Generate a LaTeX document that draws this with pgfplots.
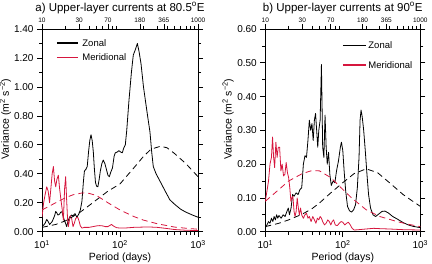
\documentclass[border=0pt]{standalone}
\usepackage{fontspec}
\setmainfont{Liberation Sans}
\usepackage{pgfplots}
\usepackage{pgfplotstable}
\pgfplotsset{compat=1.18}

\definecolor{merid}{RGB}{214,22,62}

% ---------------- panel a) 80.5E ----------------
\pgfplotstableread{
P V
10 0.04
10.5 0.045
11 0.06
11.5 0.085
12 0.07
12.5 0.05
13 0.06
13.5 0.07
14 0.09
14.5 0.11
15 0.14
15.5 0.13
16 0.115
16.7 0.12
17.4 0.135
18 0.138
18.6 0.11
19.3 0.08
20 0.06
20.7 0.035
21.5 0.07
22.5 0.10
24 0.115
25 0.11
26.5 0.125
28 0.10
29.5 0.12
31 0.15
32.5 0.21
34 0.35
35 0.42
36.5 0.43
38 0.45
39.5 0.55
41 0.63
42.5 0.67
44 0.63
45.5 0.55
47 0.43
48.5 0.34
50 0.315
52 0.31
54 0.36
56 0.42
58.5 0.47
61 0.495
64 0.47
67 0.43
70 0.39
73 0.38
76 0.41
80 0.44
84 0.52
87 0.545
92 0.55
97 0.56
102 0.55
107 0.545
112 0.58
117 0.60
122 0.70
130 0.90
140 1.10
148 1.22
158 1.26
167 1.30
176 1.24
186 1.16
200 1.00
215 0.88
230 0.77
242 0.69
255 0.55
267 0.45
290 0.40
325 0.35
380 0.28
436 0.22
500 0.19
600 0.155
700 0.135
850 0.115
1000 0.10
}\zonalA

\pgfplotstableread{
P V
10 0.10
10.5 0.20
11 0.26
11.5 0.31
12 0.28
12.5 0.20
13 0.30
13.5 0.40
14 0.45
14.5 0.35
15 0.31
15.5 0.36
16.2 0.39
16.8 0.30
17.5 0.22
18.2 0.15
18.8 0.08
19.5 0.30
20.1 0.38
20.7 0.22
21.3 0.08
21.8 0.035
22.5 0.08
23 0.11
24 0.09
25 0.035
26 0.06
27 0.09
28 0.10
29 0.095
30 0.07
31 0.04
32.5 0.025
35 0.03
40 0.03
45 0.035
50 0.04
55 0.042
60 0.04
65 0.035
70 0.035
75 0.045
78 0.05
82 0.04
90 0.028
100 0.025
120 0.026
150 0.03
200 0.032
250 0.032
300 0.03
400 0.022
500 0.015
700 0.01
1000 0.008
}\meridA

\pgfplotstableread{
P V
10 0.03
15 0.05
20 0.075
30 0.13
40 0.18
50 0.22
70 0.28
100 0.33
150 0.44
200 0.52
250 0.57
330 0.59
400 0.58
500 0.54
700 0.47
1000 0.38
}\zonalFitA

\pgfplotstableread{
P V
10 0.15
15 0.20
20 0.235
25 0.255
33 0.268
40 0.265
50 0.25
70 0.20
100 0.15
150 0.105
200 0.08
300 0.055
500 0.032
700 0.024
1000 0.017
}\meridFitA

% ---------------- panel b) 90E ----------------
\pgfplotstableread{
P V
10 0.012
10.5 0.02
11 0.03
11.5 0.025
12 0.04
12.5 0.03
13 0.045
13.5 0.035
14 0.05
14.5 0.04
15 0.048
16 0.04
17 0.05
18 0.045
19 0.06
19.8 0.07
20.5 0.05
21.5 0.07
22.5 0.11
23.5 0.105
25 0.115
26.5 0.11
28 0.125
29.5 0.13
31 0.20
32.5 0.225
34 0.22
35.5 0.27
37 0.33
38.5 0.30
40 0.32
41.5 0.27
43 0.33
44.5 0.35
46 0.30
47.5 0.25
49 0.30
51 0.33
53 0.495
55 0.25
57 0.22
59 0.345
61 0.25
63 0.20
65.5 0.235
68 0.17
71 0.137
75 0.15
79 0.145
83 0.18
88 0.21
93 0.25
96 0.265
100 0.24
104 0.18
109 0.12
115 0.075
122 0.062
130 0.058
138 0.065
146 0.08
154 0.13
162 0.22
167 0.33
172 0.36
178 0.34
186 0.30
195 0.24
205 0.17
215 0.11
228 0.07
245 0.05
265 0.045
290 0.052
320 0.06
350 0.061
390 0.055
440 0.045
500 0.038
600 0.027
700 0.02
800 0.016
1000 0.012
}\zonalB

\pgfplotstableread{
P V
10 0.09
10.5 0.12
11 0.15
11.5 0.20
12 0.22
12.4 0.28
12.8 0.22
13.2 0.19
13.7 0.265
14.2 0.22
14.7 0.25
15.3 0.25
15.9 0.18
16.5 0.20
17.2 0.165
17.9 0.17
18.6 0.205
19.3 0.175
20 0.16
20.7 0.13
21.4 0.09
22 0.10
22.7 0.105
23.5 0.06
24.2 0.045
25 0.06
25.8 0.10
26.7 0.07
27.5 0.05
28.5 0.07
29.5 0.05
31 0.04
32.5 0.05
34 0.055
35.5 0.04
37 0.045
39 0.03
41 0.045
43 0.035
45 0.025
47 0.04
49 0.035
51 0.045
53 0.04
55 0.03
58 0.02
61 0.025
64 0.035
67 0.03
70 0.02
73 0.03
76 0.035
80 0.02
85 0.018
90 0.025
95 0.03
100 0.028
106 0.02
112 0.025
118 0.028
125 0.02
132 0.01
140 0.005
160 0.006
200 0.008
250 0.01
300 0.009
400 0.008
600 0.006
1000 0.005
}\meridB

\pgfplotstableread{
P V
10 0.015
15 0.025
20 0.035
30 0.052
40 0.068
50 0.085
70 0.115
100 0.145
140 0.172
200 0.186
280 0.175
400 0.145
600 0.11
800 0.09
1000 0.075
}\zonalFitB

\pgfplotstableread{
P V
10 0.09
15 0.125
20 0.15
30 0.172
40 0.181
50 0.18
70 0.16
100 0.125
130 0.10
200 0.065
300 0.045
500 0.03
700 0.022
1000 0.015
}\meridFitB

\newcommand\fsz[1]{\fontsize{#1}{#1}\selectfont}

\pgfplotsset{
  panel/.style={
    scale only axis, height=202.7bp, anchor=south west,
    xmin=10, xmax=1000,
    axis line style={line width=0.9pt},
    tick style={black, line width=0.7pt},
    tick align=outside,
    major tick length=5bp, minor tick length=3bp,
    xtick pos=left, ytick pos=both, yticklabel pos=left,
    xtick={10,100,1000},
    xticklabels={10\textsuperscript{1},10\textsuperscript{2},10\textsuperscript{3}},
    minor xtick={20,30,40,50,60,70,80,90,200,300,400,500,600,700,800,900},
    tick label style={font=\fsz{10bp}},
    xlabel={Period (days)},
    xlabel style={font=\fsz{10.5bp}, at={(axis description cs:0.5,-0.13)}, anchor=center},
    ylabel={Variance (m\textsuperscript{2} s\textsuperscript{−2})},
    ylabel style={font=\fsz{10.5bp}, anchor=center},
    every axis title shift=0pt,
    title style={font=\fsz{11.5bp}, at={(axis description cs:0.5,1.104)}, anchor=center},
    legend cell align=left,
    every axis plot/.append style={line width=0.8pt, line join=round},
  },
  % legend samples: a short stroke in the series colour
  legline/.style n args={2}{legend image code/.code={%
      \draw[line width=1.2bp, draw=#1, color=#1] (0bp,0bp) -- (#2,0bp);}},
  fitline/.style={dash pattern=on 6bp off 4bp, line width=0.8pt},
}

\begin{document}
\begin{tikzpicture}
\useasboundingbox (0,0) rectangle (432bp,264bp);

% ---- panel a
\begin{axis}[xmode=log, panel, width=156bp, at={(42bp,32.3bp)},
    ymin=0, ymax=1.4,
    ytick={0,0.2,0.4,0.6,0.8,1.0,1.2,1.4},
    yticklabels={0.00,0.20,0.40,0.60,0.80,1.00,1.20,1.40},
    minor ytick={0.1,0.3,0.5,0.7,0.9,1.1,1.3},
    ylabel style={at={(axis description cs:-0.235,0.556)}},
    title={a) Upper-layer currents at 80.5\textsuperscript{o}E},
    legend style={draw=none, fill=none, inner sep=0pt, font=\fsz{9.5bp},
      at={(axis description cs:0.09,0.9475)}, anchor=north west,
      row sep=7.8bp, column sep=4bp,
      nodes={inner sep=0pt, text height=6.5bp, text depth=0pt}},
  ]
  \addlegendimage{legline={black}{21bp}}
  \addlegendentry{Zonal}
  \addlegendimage{legline={merid}{21bp}}
  \addlegendentry{Meridional}
  \addplot[black, forget plot] table[x=P, y=V] {\zonalA};
  \addplot[merid, forget plot] table[x=P, y=V] {\meridA};
  \addplot[black, fitline, forget plot] table[x=P, y=V] {\zonalFitA};
  \addplot[merid, fitline, forget plot] table[x=P, y=V] {\meridFitA};
\end{axis}
% period ticks along the top of panel a
\begin{axis}[xmode=log, scale only axis, width=156bp, height=202.7bp,
    anchor=south west, at={(42bp,32.3bp)},
    xmin=10, xmax=1000, ymin=0, ymax=1,
    axis x line*=top, axis y line=none,
    axis line style={line width=0.9pt},
    tick style={black, line width=0.7pt}, tick align=outside,
    major tick length=5bp, minor tick length=3bp,
    xtick={10,30,70,180,365,1000},
    xticklabels={10,30,70,180,365,1000},
    minor xtick={20,40,50,60,80,90,200,300,400,500,600,700,800,900},
    xticklabel style={font=\fsz{6.5bp}, inner sep=1.5bp}]
  \addplot[draw=none] coordinates {(10,0) (1000,1)};
\end{axis}

% ---- panel b
\begin{axis}[xmode=log, panel, width=155bp, at={(265.3bp,32.3bp)},
    ymin=0, ymax=0.6,
    ytick={0,0.1,0.2,0.3,0.4,0.5,0.6},
    yticklabels={0.00,0.10,0.20,0.30,0.40,0.50,0.60},
    minor ytick={0.05,0.15,0.25,0.35,0.45,0.55},
    ylabel style={at={(axis description cs:-0.24,0.556)}},
    title={b) Upper-layer currents at 90\textsuperscript{o}E},
    legend style={draw=none, fill=none, inner sep=0pt, font=\fsz{9.5bp},
      at={(axis description cs:0.495,0.935)}, anchor=north west,
      row sep=12.8bp, column sep=2bp,
      nodes={inner sep=0pt, text height=6.5bp, text depth=0pt}},
  ]
  \addlegendimage{legline={black}{23bp}}
  \addlegendentry{Zonal}
  \addlegendimage{legline={merid}{23bp}}
  \addlegendentry{Meridional}
  \addplot[black, forget plot] table[x=P, y=V] {\zonalB};
  \addplot[merid, forget plot] table[x=P, y=V] {\meridB};
  \addplot[black, fitline, forget plot] table[x=P, y=V] {\zonalFitB};
  \addplot[merid, fitline, forget plot] table[x=P, y=V] {\meridFitB};
\end{axis}
% period ticks along the top of panel b
\begin{axis}[xmode=log, scale only axis, width=155bp, height=202.7bp,
    anchor=south west, at={(265.3bp,32.3bp)},
    xmin=10, xmax=1000, ymin=0, ymax=1,
    axis x line*=top, axis y line=none,
    axis line style={line width=0.9pt},
    tick style={black, line width=0.7pt}, tick align=outside,
    major tick length=5bp, minor tick length=3bp,
    xtick={10,30,70,180,365,1000},
    xticklabels={10,30,70,180,365,1000},
    minor xtick={20,40,50,60,80,90,200,300,400,500,600,700,800,900},
    xticklabel style={font=\fsz{6.5bp}, inner sep=1.5bp}]
  \addplot[draw=none] coordinates {(10,0) (1000,1)};
\end{axis}
\end{tikzpicture}
\end{document}
